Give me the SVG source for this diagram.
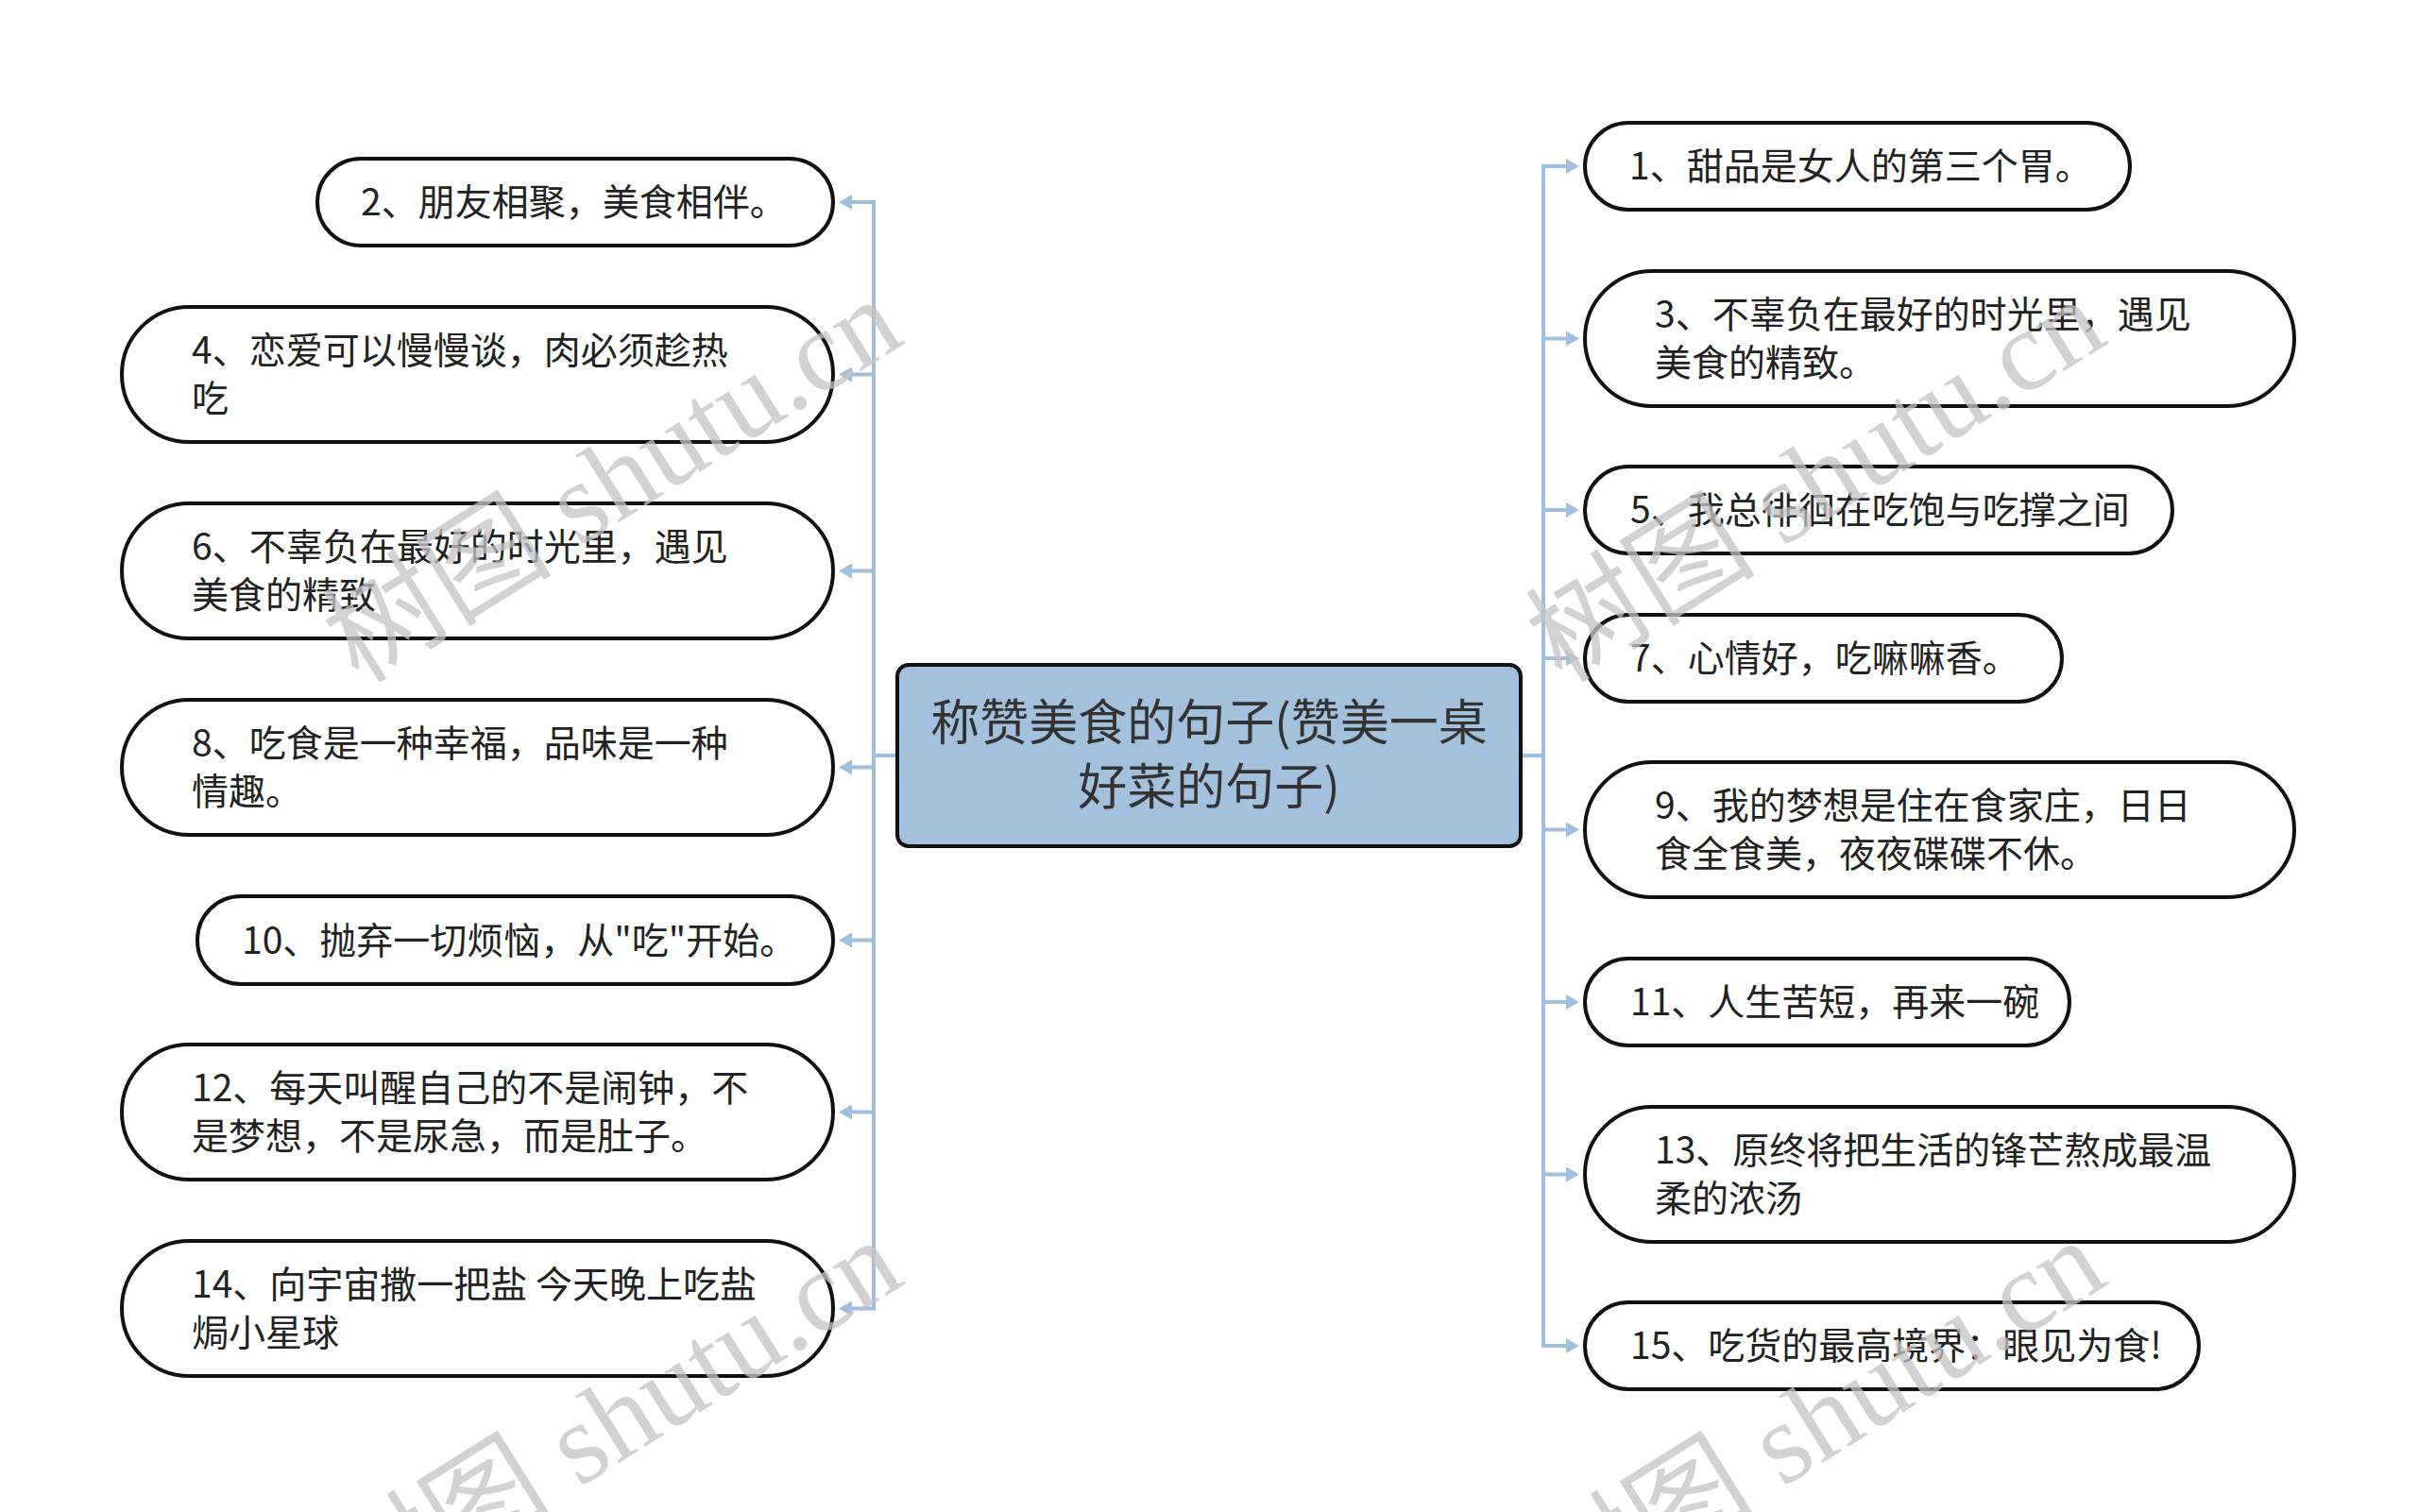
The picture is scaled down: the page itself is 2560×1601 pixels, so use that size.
<svg xmlns="http://www.w3.org/2000/svg" width="2560" height="1601" viewBox="0 0 2560 1601">
<defs>
<style>
.bg{fill:#ffffff}
.node rect{fill:#ffffff;stroke:#111111;stroke-width:4}
.node text{font-family:"Noto Sans CJK SC","Noto Sans",sans-serif;font-size:39px;fill:#222222}
.center rect{fill:#a3c1dd;stroke:#111111;stroke-width:4}
.center text{font-family:"Noto Sans CJK SC","Noto Sans",sans-serif;font-size:52px;fill:#333333;text-anchor:middle}
.conn path{fill:none;stroke:#9fbfdc;stroke-width:4;stroke-linejoin:miter}
.wm{font-family:"Liberation Serif","Noto Sans CJK SC",serif;font-size:122px;fill:#c4c4c4;opacity:0.75}
</style>
<marker id="arr" viewBox="0 0 14 16" refX="4" refY="8" markerWidth="14" markerHeight="16" markerUnits="userSpaceOnUse" orient="auto">
<path d="M0,0 L14,8 L0,16 z" fill="#9fbfdc"/>
</marker>
</defs>
<rect class="bg" x="0" y="0" width="2560" height="1601"/>

<g id="connectors" class="conn">
<path d="M950,800 H925 V214 H898" marker-end="url(#arr)"/>
<path d="M950,800 H925 V396.5 H898" marker-end="url(#arr)"/>
<path d="M950,800 H925 V604.5 H898" marker-end="url(#arr)"/>
<path d="M950,800 H925 V812.5 H898" marker-end="url(#arr)"/>
<path d="M950,800 H925 V995.5 H898" marker-end="url(#arr)"/>
<path d="M950,800 H925 V1177.5 H898" marker-end="url(#arr)"/>
<path d="M950,800 H925 V1385.5 H898" marker-end="url(#arr)"/>
<path d="M1610,800 H1634 V176 H1662" marker-end="url(#arr)"/>
<path d="M1610,800 H1634 V358.5 H1662" marker-end="url(#arr)"/>
<path d="M1610,800 H1634 V540 H1662" marker-end="url(#arr)"/>
<path d="M1610,800 H1634 V697 H1662" marker-end="url(#arr)"/>
<path d="M1610,800 H1634 V878.5 H1662" marker-end="url(#arr)"/>
<path d="M1610,800 H1634 V1061 H1662" marker-end="url(#arr)"/>
<path d="M1610,800 H1634 V1243.5 H1662" marker-end="url(#arr)"/>
<path d="M1610,800 H1634 V1425 H1662" marker-end="url(#arr)"/>
</g>

<g id="center" class="center">
<rect x="950" y="704" width="660" height="192" rx="12" ry="12"/>
<text x="1280" y="784">称赞美食的句子(赞美一桌</text>
<text x="1280" y="852">好菜的句子)</text>
</g>

<g id="n2" class="node"><rect x="336" y="168" width="546" height="92" rx="46" ry="46"/><text x="382" y="228">2、朋友相聚，美食相伴。</text></g>
<g id="n4" class="node"><rect x="129" y="325" width="753" height="143" rx="71.5" ry="71.5"/><text x="203" y="385">4、恋爱可以慢慢谈，肉必须趁热</text><text x="203" y="436">吃</text></g>
<g id="n6" class="node"><rect x="129" y="533" width="753" height="143" rx="71.5" ry="71.5"/><text x="203" y="593">6、不辜负在最好的时光里，遇见</text><text x="203" y="644">美食的精致</text></g>
<g id="n8" class="node"><rect x="129" y="741" width="753" height="143" rx="71.5" ry="71.5"/><text x="203" y="801">8、吃食是一种幸福，品味是一种</text><text x="203" y="852">情趣。</text></g>
<g id="n10" class="node"><rect x="209" y="949" width="673" height="93" rx="46" ry="46"/><text x="256" y="1010">10、抛弃一切烦恼，从"吃"开始。</text></g>
<g id="n12" class="node"><rect x="129" y="1106" width="753" height="143" rx="71.5" ry="71.5"/><text x="203" y="1166">12、每天叫醒自己的不是闹钟，不</text><text x="203" y="1217">是梦想，不是尿急，而是肚子。</text></g>
<g id="n14" class="node"><rect x="129" y="1314" width="753" height="143" rx="71.5" ry="71.5"/><text x="203" y="1374">14、向宇宙撒一把盐 今天晚上吃盐</text><text x="203" y="1425">焗小星球</text></g>

<g id="n1" class="node"><rect x="1678" y="130" width="577" height="92" rx="46" ry="46"/><text x="1725" y="190">1、甜品是女人的第三个胃。</text></g>
<g id="n3" class="node"><rect x="1678" y="287" width="751" height="143" rx="71.5" ry="71.5"/><text x="1752" y="347">3、不辜负在最好的时光里，遇见</text><text x="1752" y="398">美食的精致。</text></g>
<g id="n5" class="node"><rect x="1678" y="494" width="622" height="92" rx="46" ry="46"/><text x="1726" y="554">5、我总徘徊在吃饱与吃撑之间</text></g>
<g id="n7" class="node"><rect x="1678" y="651" width="505" height="92" rx="46" ry="46"/><text x="1726" y="711">7、心情好，吃嘛嘛香。</text></g>
<g id="n9" class="node"><rect x="1678" y="807" width="751" height="143" rx="71.5" ry="71.5"/><text x="1752" y="867">9、我的梦想是住在食家庄，日日</text><text x="1752" y="918">食全食美，夜夜碟碟不休。</text></g>
<g id="n11" class="node"><rect x="1678" y="1015" width="513" height="92" rx="46" ry="46"/><text x="1726" y="1075">11、人生苦短，再来一碗</text></g>
<g id="n13" class="node"><rect x="1678" y="1172" width="751" height="143" rx="71.5" ry="71.5"/><text x="1752" y="1232">13、原终将把生活的锋芒熬成最温</text><text x="1752" y="1283">柔的浓汤</text></g>
<g id="n15" class="node"><rect x="1678" y="1379" width="650" height="92" rx="46" ry="46"/><text x="1726" y="1439">15、吃货的最高境界：眼见为食!</text></g>

<g id="watermark">
<text class="wm" transform="translate(380,725) rotate(-32)">树图 shutu.cn</text>
<text class="wm" transform="translate(1654,725) rotate(-32)">树图 shutu.cn</text>
<text class="wm" transform="translate(380,1721) rotate(-32)">树图 shutu.cn</text>
<text class="wm" transform="translate(1654,1721) rotate(-32)">树图 shutu.cn</text>
</g>
</svg>
